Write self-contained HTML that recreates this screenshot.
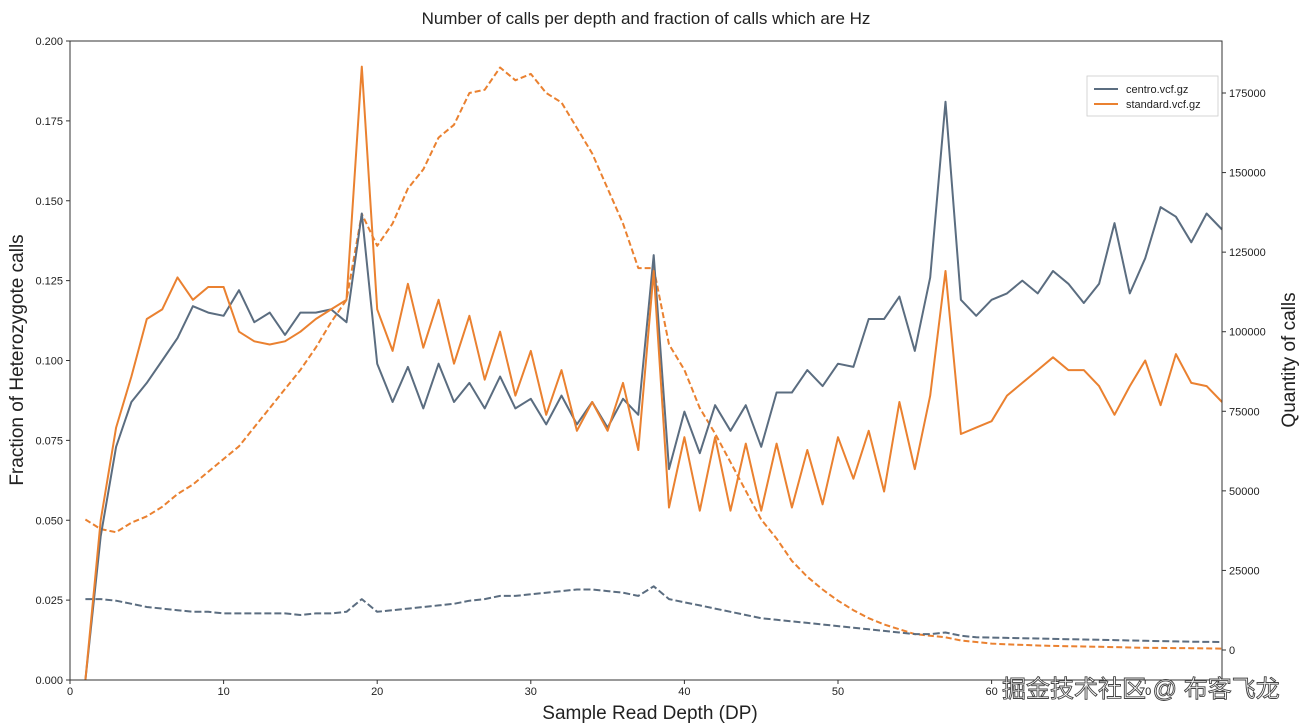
<!DOCTYPE html>
<html><head><meta charset="utf-8">
<style>
body{margin:0;background:#fff;}
svg{display:block;font-family:"Liberation Sans","DejaVu Sans",sans-serif;}
</style></head>
<body>
<svg id="chart" width="1308" height="726" viewBox="0 0 1308 726" xmlns="http://www.w3.org/2000/svg">
<text x="646" y="24" text-anchor="middle" font-size="17" fill="#222">Number of calls per depth and fraction of calls which are Hz</text>
<g id="axes"></g>
<g id="series"></g>
<rect x="70" y="41" width="1152" height="639" fill="none" stroke="#333" stroke-width="1"/>
<g>
<rect x="1087" y="76" width="131" height="40" fill="#fff" stroke="#ccc" stroke-width="0.8"/>
<g><line x1="1094" y1="89" x2="1118" y2="89" stroke="#5b6d80" stroke-width="2"/><text x="1126" y="93" font-size="11" fill="#222">centro.vcf.gz</text></g>
<g><line x1="1094" y1="104" x2="1118" y2="104" stroke="#ea8130" stroke-width="2"/><text x="1126" y="108" font-size="11" fill="#222">standard.vcf.gz</text></g>
</g>
<text x="650" y="719" text-anchor="middle" font-size="19" fill="#222">Sample Read Depth (DP)</text>
<text transform="translate(23,360) rotate(-90)" text-anchor="middle" font-size="19" fill="#222">Fraction of Heterozygote calls</text>
<text transform="translate(1295,360) rotate(-90)" text-anchor="middle" font-size="19" fill="#222">Quantity of calls</text>
<text x="1002" y="697" font-size="24" fill="#fff" stroke="#444" stroke-width="0.9" style="font-family:'Liberation Sans','Noto Sans CJK SC',sans-serif">掘金技术社区 @ 布客飞龙</text>
</svg>
<script>
const depths = Array.from({length:75},(_, i)=>i+1);
const centroFrac = [0,0.045,0.073,0.087,0.093,0.100,0.107,0.117,0.115,0.114,0.122,0.112,0.115,0.108,0.115,0.115,0.116,0.112,0.146,0.099,0.087,0.098,0.085,0.099,0.087,0.093,0.085,0.095,0.085,0.088,0.080,0.089,0.080,0.087,0.079,0.088,0.083,0.133,0.066,0.084,0.071,0.086,0.078,0.086,0.073,0.090,0.090,0.097,0.092,0.099,0.098,0.113,0.113,0.120,0.103,0.126,0.181,0.119,0.114,0.119,0.121,0.125,0.121,0.128,0.124,0.118,0.124,0.143,0.121,0.132,0.148,0.145,0.137,0.146,0.141];
const standardFrac = [0,0.050,0.079,0.095,0.113,0.116,0.126,0.119,0.123,0.123,0.109,0.106,0.105,0.106,0.109,0.113,0.116,0.119,0.192,0.116,0.103,0.124,0.104,0.119,0.099,0.114,0.094,0.109,0.089,0.103,0.083,0.097,0.078,0.087,0.078,0.093,0.072,0.128,0.054,0.076,0.053,0.076,0.053,0.074,0.053,0.074,0.054,0.072,0.055,0.076,0.063,0.078,0.059,0.087,0.066,0.089,0.128,0.077,0.079,0.081,0.089,0.093,0.097,0.101,0.097,0.097,0.092,0.083,0.092,0.100,0.086,0.102,0.093,0.092,0.087];
const standardQty = [41000,38000,37000,40000,42000,45000,49000,52000,56000,60000,64000,70000,76000,82000,88000,95000,103000,110000,137000,127000,134000,145000,151000,161000,165000,175000,176000,183000,179000,181000,175000,172000,164000,156000,145000,134000,120000,120000,96000,88000,76000,68000,59000,50000,41000,35000,28000,23000,19000,15500,12500,10000,8000,6500,5000,4500,4000,3000,2500,2000,1800,1600,1400,1300,1200,1100,1000,900,800,700,650,600,550,500,450];
const centroQty = [16000,16000,15500,14500,13500,13000,12500,12000,12000,11500,11500,11500,11500,11500,11000,11500,11500,12000,16000,12000,12500,13000,13500,14000,14500,15500,16000,17000,17000,17500,18000,18500,19000,19000,18500,18000,17000,20000,16000,15000,14000,13000,12000,11000,10000,9500,9000,8500,8000,7500,7000,6500,6000,5500,5000,5000,5500,4500,4000,3900,3800,3700,3600,3500,3400,3300,3200,3100,3000,2900,2800,2700,2600,2550,2500];
const xTicks = [0,10,20,30,40,50,60,70];
const yLeftTicks = [0,0.025,0.05,0.075,0.1,0.125,0.15,0.175,0.2];
const yLeftLabels = ["0.000","0.025","0.050","0.075","0.100","0.125","0.150","0.175","0.200"];
const yRightTicks = [0,25000,50000,75000,100000,125000,150000,175000];

const NS="http://www.w3.org/2000/svg";
const L=70,R=1222,T=41,B=680;
const xS=v=>L+v*(R-L)/75;
const yL=v=>B-v/0.2*(B-T);
const yR=v=>650-v*557/175000;
function mk(tag,attrs,parent){const e=document.createElementNS(NS,tag);for(const k in attrs)e.setAttribute(k,attrs[k]);parent.appendChild(e);return e;}
const axes=document.getElementById('axes');
xTicks.forEach(t=>{
  const g=mk('g',{},axes);
  
  
  mk('line',{x1:xS(t),x2:xS(t),y1:B,y2:B+4,stroke:'#333'},g);
  const tx=mk('text',{x:xS(t),y:B+15,'text-anchor':'middle','font-size':11,fill:'#222'},g);tx.textContent=t;
});
yLeftTicks.forEach((t,i)=>{
  const g=mk('g',{},axes);
  
  
  mk('line',{x1:L-4,x2:L,y1:yL(t),y2:yL(t),stroke:'#333'},g);
  const tx=mk('text',{x:L-7,y:yL(t)+4,'text-anchor':'end','font-size':11,fill:'#222'},g);tx.textContent=yLeftLabels[i];
});
yRightTicks.forEach(t=>{
  const g=mk('g',{},axes);
  
  
  mk('line',{x1:R,x2:R+4,y1:yR(t),y2:yR(t),stroke:'#333'},g);
  const tx=mk('text',{x:R+7,y:yR(t)+4,'text-anchor':'start','font-size':11,fill:'#222'},g);tx.textContent=t;
});
const ser=document.getElementById('series');
function line(vals,yf,color,dash,name){
  const d=vals.map((v,i)=>(i?'L':'M')+xS(depths[i]).toFixed(1)+','+yf(v).toFixed(1)).join('');
  const p=mk('path',{d:d,fill:'none',stroke:color,'stroke-width':2,'stroke-linejoin':'round'},ser);
  if(dash)p.setAttribute('stroke-dasharray',dash);
  
  
}
line(standardQty,yR,'#ea8130','6,3','standard-quantity-line');
line(centroQty,yR,'#5b6d80','7,3','centro-quantity-line');
line(centroFrac,yL,'#5b6d80',null,'centro-fraction-line');
line(standardFrac,yL,'#ea8130',null,'standard-fraction-line');
</script>
</body></html>
